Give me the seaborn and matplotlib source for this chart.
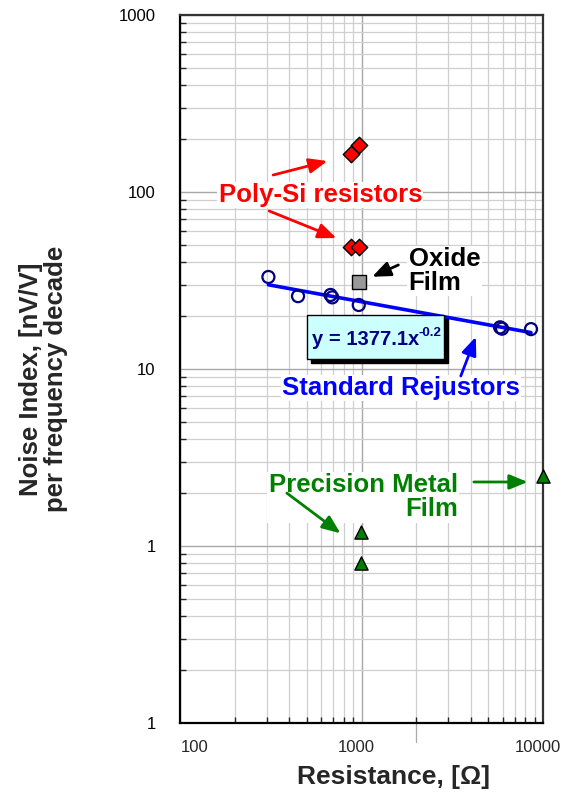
import numpy as np
import pandas as pd
import matplotlib
matplotlib.use("Agg")
import matplotlib.pyplot as plt
import seaborn as sns
from matplotlib.patches import Rectangle
from matplotlib.ticker import FixedLocator, FixedFormatter, LogLocator, NullFormatter

# ---- data -------------------------------------------------------------
std_r = [307, 447, 675, 690, 966, 5800, 5950, 8590]
std_ni = [33.1, 25.8, 26.2, 25.4, 23.0, 17.2, 16.9, 16.8]

polysi_r = [875, 968, 875, 968]
polysi_ni = [164, 184, 49.1, 49.1]

oxide_r = [968]
oxide_ni = [31.1]

metal_r = [988, 988, 10000]
metal_ni = [1.2, 0.80, 2.48]

x_ticks = [100, 1000, 10000]
x_tick_labels = ["100", "1000", "10000"]
y_ticks = [0.1, 1, 10, 100, 1000]
y_tick_labels = ["1", "1", "10", "100", "1000"]

eq_label = "y = 1377.1x"
eq_exponent = "-0.2"

# ---- style ------------------------------------------------------------
sns.set_style("white")
plt.rcParams["font.family"] = ["Liberation Sans", "DejaVu Sans"]

fig = plt.figure(figsize=(5.63, 7.98), dpi=100)
ax = fig.add_axes([180 / 563, 75 / 798, 363 / 563, 708 / 798])
ax.set_xscale("log")
ax.set_yscale("log")
ax.set_xlim(100, 10000)
ax.set_ylim(0.1, 1000)

# power-law trend line through the standard resistors
b, a = np.polyfit(np.log10(std_r), np.log10(std_ni), 1)
trend_x = np.array([min(std_r), max(std_r)])
trend = pd.DataFrame({"R": trend_x, "NI": 10 ** a * trend_x ** b})
sns.lineplot(data=trend, x="R", y="NI", color="#0000FF", lw=2.6, ax=ax, zorder=3)

std = pd.DataFrame({"R": std_r, "NI": std_ni})
sns.scatterplot(data=std, x="R", y="NI", marker="o", s=75, facecolor="none",
                edgecolor="#000080", linewidth=1.6, ax=ax, zorder=4, clip_on=False)

poly = pd.DataFrame({"R": polysi_r, "NI": polysi_ni})
sns.scatterplot(data=poly, x="R", y="NI", marker="D", s=70, color="#FF0000",
                edgecolor="black", linewidth=1.0, ax=ax, zorder=4, clip_on=False)

oxide = pd.DataFrame({"R": oxide_r, "NI": oxide_ni})
sns.scatterplot(data=oxide, x="R", y="NI", marker="s", s=90, color="#999999",
                edgecolor="black", linewidth=1.0, ax=ax, zorder=4, clip_on=False)

metal = pd.DataFrame({"R": metal_r, "NI": metal_ni})
sns.scatterplot(data=metal, x="R", y="NI", marker="^", s=90, color="#008000",
                edgecolor="black", linewidth=1.0, ax=ax, zorder=8, clip_on=False)

# ---- axes, ticks, grid -----------------------------------------------
ax.xaxis.set_major_locator(FixedLocator(x_ticks))
ax.xaxis.set_major_formatter(NullFormatter())
ax.yaxis.set_major_locator(FixedLocator(y_ticks))
ax.yaxis.set_major_formatter(FixedFormatter(y_tick_labels))
for axis in (ax.xaxis, ax.yaxis):
    axis.set_minor_locator(LogLocator(base=10, subs=np.arange(2, 10), numticks=50))
    axis.set_minor_formatter(NullFormatter())

ax.grid(which="major", color="#a8a8a8", lw=1.0)
ax.grid(which="minor", color="#cfcfcf", lw=0.9)
ax.set_axisbelow(True)

ax.tick_params(which="major", direction="inout", length=9, width=1.3,
               labelsize=12, colors="black")
ax.tick_params(axis="y", which="major", pad=13)
ax.tick_params(which="minor", direction="in", length=4, width=1.0,
               left=True, bottom=True)

# x tick labels, each nudged horizontally the way the original layout sits
x_label_shift = [15, -5, -5]
for xv, lbl, dx in zip(x_ticks, x_tick_labels, x_label_shift):
    ax.annotate(lbl, xy=(xv, 0), xycoords=ax.get_xaxis_transform(),
                xytext=(dx, -25), textcoords="offset pixels",
                ha="center", va="center", fontsize=12, annotation_clip=False)

for side, sp in ax.spines.items():
    sp.set_visible(True)
    sp.set_linewidth(1.6)
    sp.set_color("black" if side in ("left", "bottom") else "#333333")

ax.axvline(2000, ymin=-0.027, ymax=0.0, clip_on=False, color="#aaaaaa", lw=0.9)

ax.set_xlabel("Resistance, [\u03a9]", fontsize=19, fontweight="bold")
ax.xaxis.label.set_va("center")
ax.xaxis.set_label_coords(0.588, -0.076)
ax.set_ylabel("Noise Index, [nV/V]\nper frequency decade", fontsize=18.5,
              fontweight="bold", linespacing=1.05)
ax.yaxis.label.set_va("center")
ax.yaxis.set_label_coords(-0.375, 0.486)

# ---- annotations ------------------------------------------------------
txt_kw = dict(fontsize=18.5, fontweight="bold", zorder=5,
              bbox=dict(facecolor="white", edgecolor="none", pad=1.0))


def arrow(tail, head, color):
    ax.annotate("", xy=head, xytext=tail,
                arrowprops=dict(arrowstyle="-|>,head_length=1.1,head_width=0.45",
                                color=color, lw=2.0, shrinkA=0, shrinkB=0),
                zorder=5)


ax.text(594, 96.2, "Poly-Si resistors", color="#FF0000", ha="center",
        va="center", **txt_kw)
arrow((326, 124.7), (649, 149.6), "#FF0000")
arrow((310, 78.1), (728, 54.9), "#FF0000")

ax.text(1820, 35.8, "Oxide\nFilm", color="black", ha="left", va="center",
        linespacing=1.0, **txt_kw)
arrow((1596, 38.7), (1145, 33.2), "black")

ax.text(1652, 7.82, "Standard Rejustors", color="#0000FF", ha="center",
        va="center", **txt_kw)
arrow((3524, 9.13), (4266, 15.2), "#0000FF")

ax.text(3390, 1.88, "Precision Metal\nFilm", color="#008000", ha="right",
        va="center", multialignment="right", linespacing=1.0, **txt_kw)
arrow((388, 1.99), (766, 1.18), "#008000")
arrow((4160, 2.30), (8233, 2.30), "#008000")

# trend-line equation box with drop shadow
bx, by, bw, bh = 0.349, 0.5137, 0.378, 0.0626
ax.add_patch(Rectangle((bx + 0.011, by - 0.0056), bw, bh, transform=ax.transAxes,
                       facecolor="black", edgecolor="black", zorder=5))
ax.add_patch(Rectangle((bx, by), bw, bh, transform=ax.transAxes,
                       facecolor="#CCFFFF", edgecolor="black", lw=1.0, zorder=6))
eq = ax.text(0.3628, 0.541, eq_label, transform=ax.transAxes, fontsize=14.5,
             fontweight="bold", color="#000080", ha="left", va="center", zorder=7)
ax.annotate(eq_exponent, xy=(1.0, 0.55), xycoords=eq, fontsize=9.5,
            fontweight="bold", color="#000080", ha="left", va="bottom", zorder=7)

fig.savefig("out.png", dpi=100)
